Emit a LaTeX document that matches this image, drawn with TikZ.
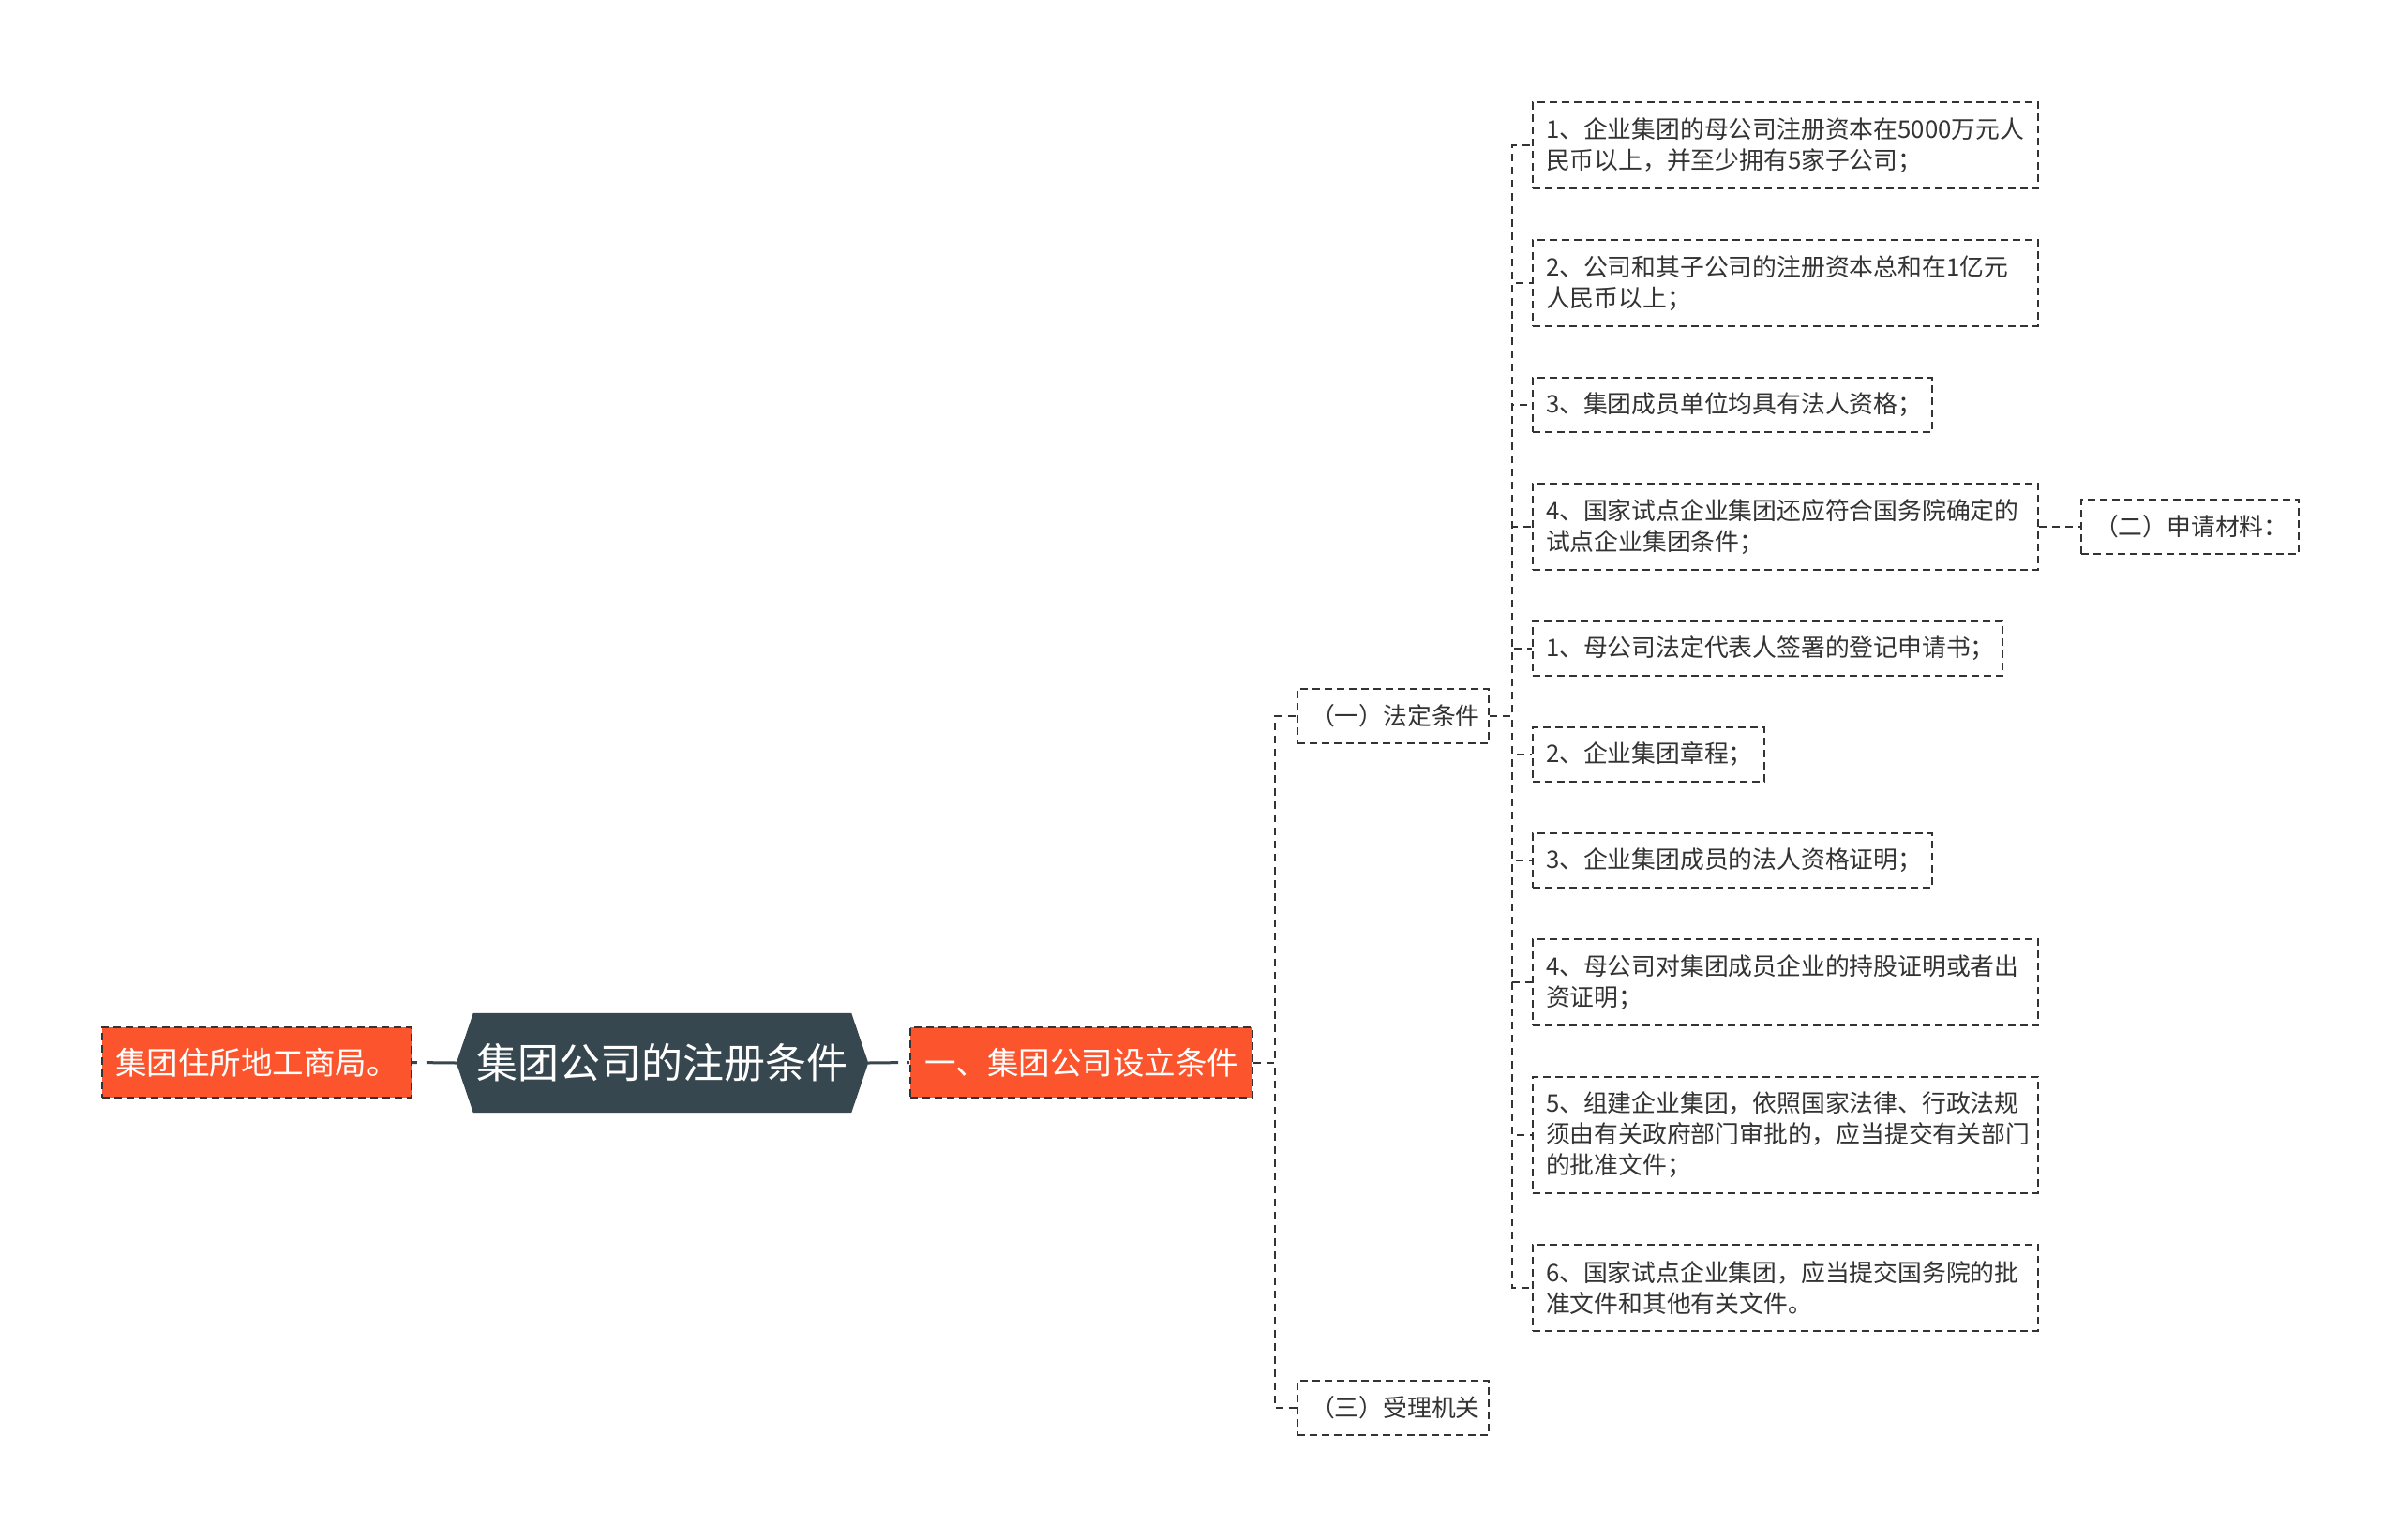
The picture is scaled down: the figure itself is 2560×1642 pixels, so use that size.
\documentclass[tikz,border=0pt]{standalone}
\usepackage{fontspec}
\setmainfont{Noto Sans CJK SC}
\definecolor{orangec}{HTML}{FC552E}
\definecolor{rootc}{HTML}{37474F}
\definecolor{linec}{HTML}{333333}
\definecolor{textc}{HTML}{333333}
\begin{document}
\begin{tikzpicture}[x=1pt,y=-1pt,
  leafbox/.style={draw=linec, line width=2pt, dash pattern=on 8pt off 5pt,
    anchor=west, align=left, text=textc, font=\fontsize{25.8}{33}\selectfont,
    inner xsep=14pt, inner ysep=0pt},
  hotbox/.style={draw=linec, line width=2pt, dash pattern=on 8pt off 5pt,
    fill=orangec, text=white, font=\fontsize{33.5}{40}\selectfont,
    inner sep=0pt, minimum height=75pt},
  conn/.style={draw=linec, line width=2pt, dash pattern=on 8pt off 6pt},
  rootline/.style={draw=rootc, line width=3pt, dash pattern=on 32pt off 10pt}
]
\useasboundingbox (0,0) rectangle (2560,1642);
\fill[white] (0,0) rectangle (2560,1642);

% root
\node[inner sep=0pt, minimum width=439pt, minimum height=106pt] (root) at (706.5,1134) {};
\fill[rootc] (root.west) -- ([xshift=18pt]root.north west) -- ([xshift=-18pt]root.north east)
  -- (root.east) -- ([xshift=-18pt]root.south east) -- ([xshift=18pt]root.south west) -- cycle;
\node[text=white, font=\fontsize{44}{52}\selectfont, inner sep=0pt] (roottext) at (root.center) {集团公司的注册条件};

% level 1
\node[hotbox, minimum width=330pt] (L) at (274,1133.5) {集团住所地工商局。};
\node[hotbox, minimum width=365pt] (A) at (1153.5,1133.5) {一、集团公司设立条件};

% level 2
\node[leafbox, text width=176pt, minimum height=58pt] (B1) at (1383,764) {（一）法定条件};
\node[leafbox, text width=176pt, minimum height=58pt] (B3) at (1383,1502) {（三）受理机关};

% leaves
\node[leafbox, text width=511pt, minimum height=92pt] (c1) at (1634,155) {1、企业集团的母公司注册资本在5000万元人\\民币以上，并至少拥有5家子公司；};
\node[leafbox, text width=511pt, minimum height=92pt] (c2) at (1634,302) {2、公司和其子公司的注册资本总和在1亿元\\人民币以上；};
\node[leafbox, text width=398pt, minimum height=58pt] (c3) at (1634,432) {3、集团成员单位均具有法人资格；};
\node[leafbox, text width=511pt, minimum height=92pt] (c4) at (1634,562) {4、国家试点企业集团还应符合国务院确定的\\试点企业集团条件；};
\node[leafbox, text width=473pt, minimum height=58pt] (c5) at (1634,692) {1、母公司法定代表人签署的登记申请书；};
\node[leafbox, text width=219pt, minimum height=58pt] (c6) at (1634,805) {2、企业集团章程；};
\node[leafbox, text width=398pt, minimum height=58pt] (c7) at (1634,918) {3、企业集团成员的法人资格证明；};
\node[leafbox, text width=511pt, minimum height=92pt] (c8) at (1634,1048) {4、母公司对集团成员企业的持股证明或者出\\资证明；};
\node[leafbox, text width=511pt, minimum height=124pt] (c9) at (1634,1211) {5、组建企业集团，依照国家法律、行政法规\\须由有关政府部门审批的，应当提交有关部门\\的批准文件；};
\node[leafbox, text width=511pt, minimum height=92pt] (c10) at (1634,1374) {6、国家试点企业集团，应当提交国务院的批\\准文件和其他有关文件。};

\node[leafbox, text width=204pt, minimum height=58pt] (D) at (2219,562) {（二）申请材料：};

% connectors
\draw[rootline] (root.west) -- (L.east);
\draw[rootline] (root.east) -- (A.west);

\draw[conn] (A.east) -- ++(23,0) |- (B1.west);
\draw[conn] (A.east) -- ++(23,0) |- (B3.west);

\foreach \c in {c1,c2,c3,c4,c5,c6,c7,c8,c9,c10}
  \draw[conn] (B1.east) -- ++(24,0) |- (\c.west);

\draw[conn] (c4.east) -- (D.west);
\end{tikzpicture}
\end{document}
